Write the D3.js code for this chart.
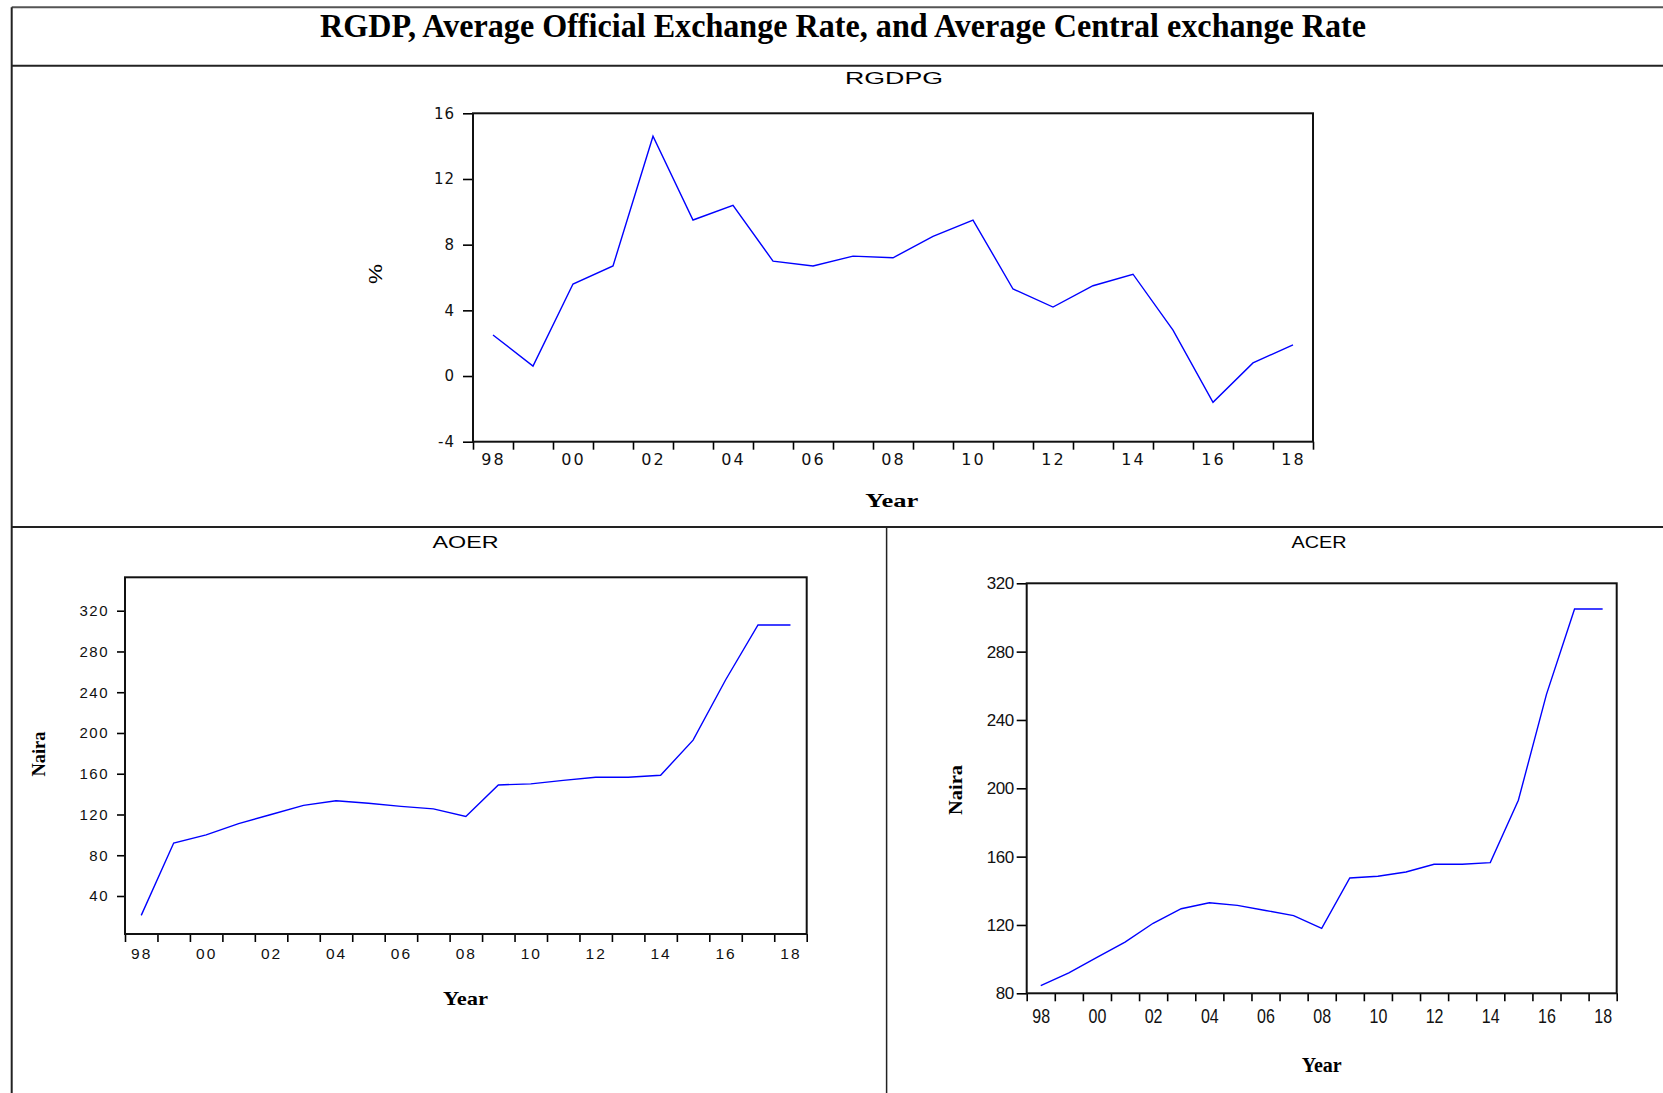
<!DOCTYPE html>
<html>
<head>
	<meta charset="utf-8">
	<title>RGDP, AOER, ACER</title>
	<style>
		body { margin: 0; background: #fff; }
		svg { display: block; }
		.tick line, .domain { stroke: #000; }
	</style>
</head>
<body>
	<svg width="1663" height="1093"></svg>
	<script src="https://cdn.jsdelivr.net/npm/d3@7"></script>
	<script>
		// data
		var years = [1998, 1999, 2000, 2001, 2002, 2003, 2004, 2005, 2006, 2007, 2008,
			2009, 2010, 2011, 2012, 2013, 2014, 2015, 2016, 2017, 2018];
		var rgdpg = [2.5, 0.6, 5.6, 6.7, 14.6, 9.5, 10.4, 7.0, 6.7, 7.3, 7.2,
			8.5, 9.5, 5.3, 4.2, 5.5, 6.2, 2.8, -1.6, 0.8, 1.9];
		var aoer = [21, 92, 100, 111, 120, 129, 133.5, 131, 128, 125.5, 118,
			149, 150, 153.5, 156.5, 156.5, 158.5, 193, 252, 306, 306];
		var acer = [84.5, 92, 101, 110, 121, 129.5, 133, 131.5, 128.5, 125.5, 118,
			147.5, 148.5, 151, 155.5, 155.5, 156.5, 193, 255, 305, 305];
		var rgdpgTicks = [-4, 0, 4, 8, 12, 16];
		var aoerTicks = [40, 80, 120, 160, 200, 240, 280, 320];
		var acerTicks = [80, 120, 160, 200, 240, 280, 320];
		var yearLabels = [1998, 2000, 2002, 2004, 2006, 2008, 2010, 2012, 2014, 2016, 2018];

		var svg = d3.select('svg');

		// outer frame of the figure
		var frame = svg.append('g').attr('stroke', '#222').attr('stroke-width', 2);
		frame.append('line').attr('x1', 11.7).attr('x2', 1663).attr('y1', 7.3).attr('y2', 7.3).attr('stroke', '#555');
		frame.append('line').attr('x1', 11.7).attr('x2', 11.7).attr('y1', 7.3).attr('y2', 1093);
		frame.append('line').attr('x1', 11.7).attr('x2', 1663).attr('y1', 65.7).attr('y2', 65.7);
		frame.append('line').attr('x1', 11.7).attr('x2', 1663).attr('y1', 527).attr('y2', 527);
		frame.append('line').attr('x1', 886.6).attr('x2', 886.6).attr('y1', 527).attr('y2', 1093).attr('stroke-width', 1.5);

		svg.append('text')
			.attr('x', 320).attr('y', 36.7)
			.attr('textLength', 1046).attr('lengthAdjust', 'spacingAndGlyphs')
			.style('font-family', '"Liberation Serif", serif')
			.style('font-weight', 'bold').style('font-size', '33px')
			.text('RGDP, Average Official Exchange Rate, and Average Central exchange Rate');

		function label(x, y, txt, len, size, font, bold, rotate) {
			var t = svg.append('text')
				.attr('text-anchor', 'middle')
				.attr('textLength', len).attr('lengthAdjust', 'spacingAndGlyphs')
				.style('font-family', font)
				.style('font-size', size + 'px')
				.style('font-weight', bold ? 'bold' : 'normal')
				.text(txt);
			if (rotate) t.attr('transform', 'translate(' + x + ',' + y + ') rotate(-90)');
			else t.attr('x', x).attr('y', y);
			return t;
		}

		var SANS = '"Liberation Sans", Arial, sans-serif';
		var SERIF = '"Liberation Serif", "Times New Roman", serif';

		// one panel: frame box, year axis, value axis, blue line
		function panel(o) {
			var g = svg.append('g');
			var x = d3.scaleLinear().domain([1998, 2019]).range([o.left, o.right]);
			var y = d3.scaleLinear().domain(o.domain).range([o.bottom, o.top]);

			// year ticks at the start of every year
			g.append('g')
				.attr('transform', 'translate(0,' + o.bottom + ')')
				.call(d3.axisBottom(x).tickValues(d3.range(1998, 2020)).tickSize(8).tickFormat(''))
				.call(s => s.selectAll('line').attr('stroke-width', 1.6))
				.call(s => s.select('.domain').remove());

			// year labels centred in their year
			g.append('g')
				.attr('transform', 'translate(0,' + o.bottom + ')')
				.call(d3.axisBottom(x).tickValues(yearLabels.map(d => d + 0.5)).tickSize(0)
					.tickFormat(d => String(Math.floor(d) % 100).padStart(2, '0')))
				.call(s => s.select('.domain').remove())
				.call(s => s.selectAll('text')
					.attr('y', o.xLabelY - o.bottom).attr('dy', 0)
					.attr('fill', '#111')
					.attr('transform', o.xScale ? 'scale(' + o.xScale + ',1)' : null)
					.style('font-family', o.xFont)
					.style('font-size', o.xSize + 'px')
					.style('letter-spacing', o.xSpacing + 'px'));

			g.append('g')
				.attr('transform', 'translate(' + o.left + ',0)')
				.call(d3.axisLeft(y).tickValues(o.ticks).tickSize(o.yTick).tickPadding(o.yPad)
					.tickFormat(d => String(d)))
				.call(s => s.select('.domain').remove())
				.call(s => s.selectAll('line').attr('stroke-width', 1.6))
				.call(s => s.selectAll('text')
					.attr('fill', '#111')
					.style('font-family', o.yFont)
					.style('font-size', o.ySize + 'px')
					.style('letter-spacing', o.ySpacing + 'px'));

			g.append('rect')
				.attr('x', o.left).attr('y', o.top)
				.attr('width', o.right - o.left).attr('height', o.bottom - o.top)
				.attr('fill', 'none').attr('stroke', '#111').attr('stroke-width', 2);

			var line = d3.line().x((d, i) => x(years[i] + 0.5)).y(d => y(d));
			g.append('path')
				.datum(o.values)
				.attr('d', line)
				.attr('fill', 'none')
				.attr('stroke', '#0000ff')
				.attr('stroke-width', 1.4);
		}

		panel({
			left: 473, right: 1313, top: 113.3, bottom: 441.7,
			domain: [-4, 16], ticks: rgdpgTicks, values: rgdpg,
			yTick: 10, yPad: 8, yFont: '"DejaVu Sans", sans-serif', ySize: 15, ySpacing: 1,
			xFont: '"DejaVu Sans", sans-serif', xSize: 16, xSpacing: 2, xLabelY: 465
		});
		label(894, 84, 'RGDPG', 98, 17, SANS, false);
		label(891.7, 506.5, 'Year', 53, 19, SERIF, true);
		label(382, 274, '%', 20, 18, SANS, false, true);

		panel({
			left: 125, right: 806.7, top: 577.3, bottom: 934,
			domain: [2.7, 352.8], ticks: aoerTicks, values: aoer,
			yTick: 8, yPad: 8, yFont: SANS, ySize: 15, ySpacing: 1.5,
			xFont: SANS, xSize: 15.5, xSpacing: 2, xLabelY: 959
		});
		label(465.5, 548, 'AOER', 66, 17, SANS, false);
		label(465.5, 1005, 'Year', 45, 19, SERIF, true);
		label(45, 754, 'Naira', 45, 19, SERIF, true, true);

		panel({
			left: 1026.7, right: 1616.7, top: 583.3, bottom: 993.3,
			domain: [80, 320], ticks: acerTicks, values: acer,
			yTick: 10, yPad: 3, yFont: SANS, ySize: 17, ySpacing: -0.5,
			xFont: SANS, xSize: 20, xSpacing: 0, xScale: 0.8, xLabelY: 1023
		});
		label(1319, 548, 'ACER', 55, 17, SANS, false);
		label(1321.7, 1071.5, 'Year', 40, 20, SERIF, true);
		label(962, 790, 'Naira', 50, 18, SERIF, true, true);
	</script>
</body>
</html>
